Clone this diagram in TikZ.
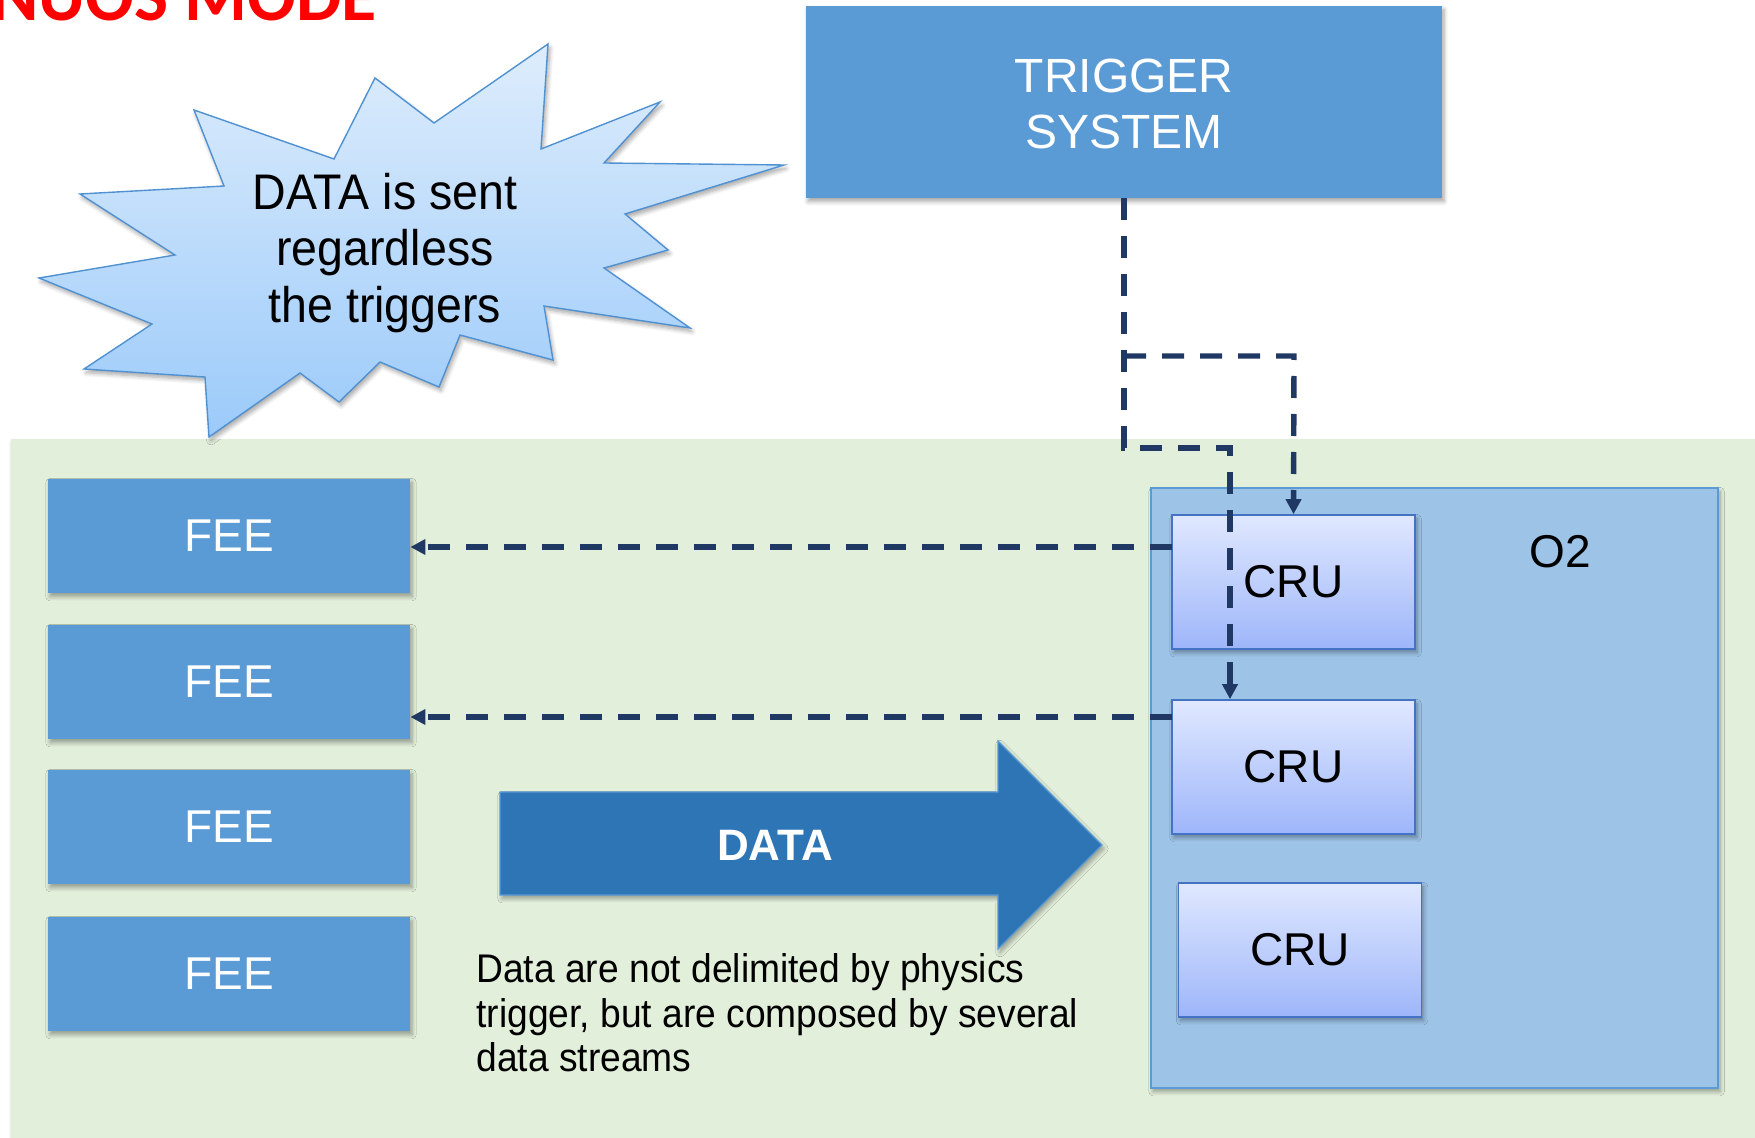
\documentclass[tikz,border=0pt]{standalone}
\usepackage{fontspec}
\setmainfont{Liberation Sans}
\newfontfamily\titlefont{Carlito}
\newfontfamily\burstfont{Liberation Sans}[FakeStretch=0.93]
\newfontfamily\notefont{Liberation Sans}[FakeStretch=0.93]
\usetikzlibrary{arrows.meta,shadows,shadows.blur}

\definecolor{boxblue}{RGB}{91,155,213}
\definecolor{arrowblue}{RGB}{46,117,182}
\definecolor{bggreen}{RGB}{226,239,218}
\definecolor{otwofill}{RGB}{157,195,230}
\definecolor{navy}{RGB}{31,56,100}
\definecolor{crutop}{RGB}{224,232,255}
\definecolor{crubot}{RGB}{158,182,250}
\definecolor{cruedge}{RGB}{68,114,196}
\definecolor{bursttop}{RGB}{222,237,252}
\definecolor{burstbot}{RGB}{155,202,250}
\definecolor{burstedge}{RGB}{80,145,210}

\tikzset{
  softshadow/.style={blur shadow={shadow blur steps=6, shadow xshift=1pt,
      shadow yshift=-1.8pt, shadow opacity=35}},
  feebox/.style={rectangle, fill=boxblue, draw=none, softshadow,
      minimum width=181pt, minimum height=57pt, inner sep=0pt,
      text=white, font=\fontsize{23}{26}\selectfont},
  trigbox/.style={rectangle, fill=boxblue, draw=none, softshadow,
      minimum width=318pt, minimum height=96pt, inner sep=0pt},
  otwobox/.style={rectangle, fill=otwofill, draw=boxblue, line width=0.8pt,
      softshadow, minimum width=283.5pt, minimum height=300pt, inner sep=0pt},
  crubox/.style={rectangle, top color=crutop, bottom color=crubot,
      draw=cruedge, line width=0.8pt, softshadow,
      minimum width=121.5pt, minimum height=67pt, inner sep=0pt,
      font=\fontsize{23}{26}\selectfont},
  trigline/.style={draw=navy, line width=2.7pt, dash pattern=on 11pt off 8pt,
      -{Triangle[length=7.5pt,width=7.5pt]}},
}

\begin{document}
\begin{tikzpicture}[x=0.5pt,y=-0.5pt]
\useasboundingbox (0,0) rectangle (1755,1138);

% heading, partly cut by the top edge
\node[anchor=base east, inner sep=0pt, text=red,
      font=\titlefont\bfseries\fontsize{36}{36}\selectfont] (title) at (377,21) {NUOS MODE};

% detector area
\path[fill=bggreen, softshadow] (11,439) rectangle (1770,1150);

% starburst callout
\path[draw=burstedge, line width=0.7pt, top color=bursttop, bottom color=burstbot,
      softshadow, line join=miter]
  (548,44) -- (541,149) -- (660,102) -- (604,163) -- (784,165) -- (625,214)
  -- (668,250) -- (604,268) -- (690,328) -- (544,306) -- (553,360) -- (460,335)
  -- (439,387) -- (380,362) -- (339,402) -- (300,373) -- (209,437) -- (205,377)
  -- (84,369) -- (152,324) -- (39,278) -- (175,255) -- (80,194) -- (224,186)
  -- (194,110) -- (334,159) -- (375,78) -- (434,123) -- cycle;
\node[align=center, inner sep=0pt, font=\burstfont\fontsize{25}{28.3}\selectfont]
  (burst) at (385,253) {DATA is sent\\regardless\\the triggers};

% trigger system
\node[trigbox] (trig) at (1124,102) {};
\node[align=center, inner sep=0pt, text=white, font=\fontsize{24}{28}\selectfont]
  (trigtext) at (1124,104) {TRIGGER\\SYSTEM};

% front-end electronics
\node[feebox] (fee1) at (229,536) {FEE};
\node[feebox] (fee2) at (229,682) {FEE};
\node[feebox] (fee3) at (229,827) {FEE};
\node[feebox] (fee4) at (229,974) {FEE};

% O2 farm with its readout units
\node[otwobox] (o2) at (1434.5,788) {};
\node[inner sep=0pt, font=\fontsize{23}{26}\selectfont] (o2label) at (1560,552) {O2};
\node[crubox] (cru1) at (1293.5,582) {CRU};
\node[crubox] (cru2) at (1293.5,767) {CRU};
\node[crubox] (cru3) at (1300,950) {CRU};

% data flow arrow
\path[fill=arrowblue, draw=boxblue, line width=0.6pt, softshadow]
  (500,792) -- (998,792) -- (998,741) -- (1102,845) -- (998,949) -- (998,895)
  -- (500,895) -- cycle;
\node[inner sep=0pt, text=white, font=\bfseries\fontsize{22}{24}\selectfont]
  (datalabel) at (775,845) {DATA};
\node[anchor=north west, align=left, inner sep=0pt,
      font=\notefont\fontsize{20}{22.4}\selectfont] (note) at (476,953)
  {Data are not delimited by physics\\trigger, but are composed by several\\data streams};

% trigger distribution
\coordinate (split) at (1124,356);
\coordinate (bend) at (1124,448);
\coordinate (drop) at (1230,448);
\coordinate (over) at (1294,356);
\draw[trigline] (trig.south) -- (bend) -- (drop) -- (drop |- cru2.north);
\draw[trigline] (split) -- (over) -- (cru1.north);

% links from the readout units to the front-end
\coordinate (out1) at (1172,547);
\coordinate (out2) at (1172,717);
\draw[trigline] (out1) -- (out1 -| fee1.east);
\draw[trigline] (out2) -- (out2 -| fee2.east);
\end{tikzpicture}
\end{document}
